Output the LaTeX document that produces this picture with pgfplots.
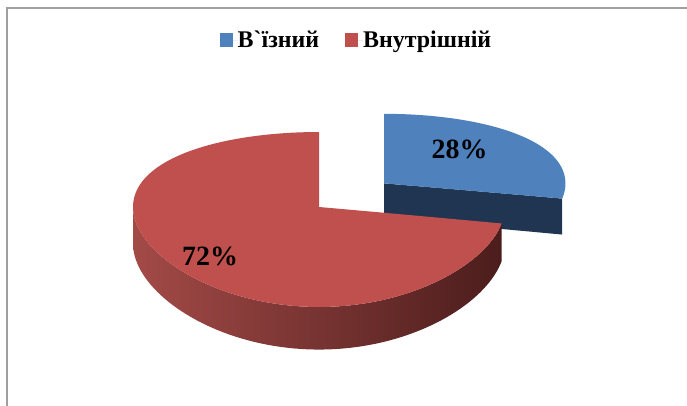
\documentclass[border=0pt]{standalone}
\usepackage{fontspec}
\newfontfamily\lser{Liberation Serif}
\usepackage{pgfplots}
\pgfplotsset{compat=1.18}
\definecolor{bluetop}{HTML}{4F81BD}
\definecolor{blueside}{HTML}{1F3552}
\definecolor{redtop}{HTML}{C0504D}
\definecolor{redsideL}{HTML}{A34A47}
\definecolor{redsideM}{HTML}{74312E}
\definecolor{redsideR}{HTML}{4B1D1C}
\definecolor{frame}{HTML}{A0A0A0}
% chart values (per cent)
\def\vA{28}  % В`їзний
\def\vB{72}  % Внутрішній
\tikzset{declare function={
  PX(\u)=319+186*\u;
  PY(\v,\z)=199+(85.7*\v-36.5*\z)*7/(7+\v);
}}
\begin{document}
\begin{tikzpicture}
\pgfmathsetmacro\aS{90}
\pgfmathsetmacro\aE{90-3.6*\vA}
\pgfmathsetmacro\aR{\aE-3.6*\vB}
\begin{axis}[
  scale only axis, width=687bp, height=406bp,
  xmin=0, xmax=687, ymin=0, ymax=406,
  enlargelimits=false, hide axis,
  legend style={at={(axis cs:355.5,366)}, anchor=center, draw=none, fill=none,
    font=\lser\bfseries\fontsize{24}{26}\selectfont,
    legend columns=2,
    nodes={inner xsep=0pt},
    /tikz/every even column/.style={column sep=26bp}},
  legend image code/.code={\path (0bp,0bp) rectangle (18bp,0bp);\fill[#1] (0bp,-7bp) rectangle (13bp,7bp);},
]
\path (axis cs:0,0) rectangle (axis cs:687,406);
% frame
\draw[frame, line width=1.6bp] (axis cs:7,0) -- (axis cs:7,398) -- (axis cs:687,398);
% ---- blue slice (exploded) ----
\def\ex{0.35}\def\ey{0.287}\def\rb{0.975}
% radial cut face at end angle
\addplot[forget plot, fill=blueside, draw=none, domain=0:3, samples=31, variable=\q]
 ({PX(\ex+\rb*min(\q,1,3-\q)*cos(\aE))},
  {PY(\ey+min(\q,1,3-\q)*sin(\aE),min(max(\q-1,0),1))});
% top face
\addplot[fill=bluetop, draw=none, domain=0:2, samples=201, variable=\q]
 ({PX(\ex+\rb*min(1,2-\q)*cos(\aE+(\aS-\aE)*min(\q,1)))},
  {PY(\ey+min(1,2-\q)*sin(\aE+(\aS-\aE)*min(\q,1)),0)});
\addlegendentry{В`їзний}
% ---- red slice ----
% outer front side
\addplot[forget plot, left color=redsideL, middle color=redsideM, right color=redsideR, draw=none,
  domain=0:3, samples=241, variable=\q]
 ({PX(cos(-180+(\aE+180)*min(\q,1,3-\q)))},
  {PY(sin(-180+(\aE+180)*min(\q,1,3-\q)),min(max(\q-1,0),1))});
% top face
\addplot[fill=redtop, draw=none, domain=0:2, samples=301, variable=\q]
 ({PX(min(1,2-\q)*cos(\aR+(\aE-\aR)*min(\q,1)))},
  {PY(min(1,2-\q)*sin(\aR+(\aE-\aR)*min(\q,1)),0)});
\addlegendentry{Внутрішній}
% labels
\node[font=\lser\bfseries\fontsize{28}{30}\selectfont] at (axis cs:459.5,257) {\vA\%};
\node[font=\lser\bfseries\fontsize{28}{30}\selectfont] at (axis cs:210,150) {\vB\%};
\end{axis}
\end{tikzpicture}
\end{document}
